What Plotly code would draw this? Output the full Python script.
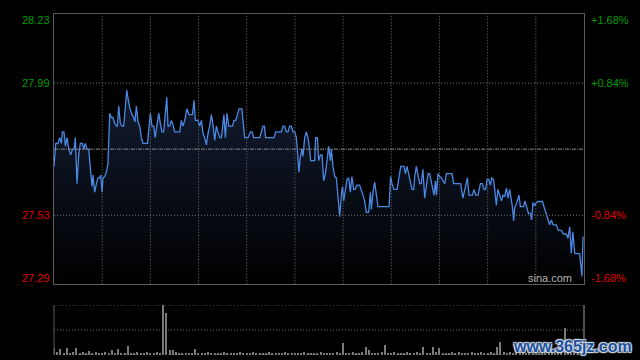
import plotly.graph_objects as go

# ---------------- data ----------------
minute = [0, 1.1, 2.5, 3.5, 4.6, 5.2, 6.2, 7.1, 8.1, 9.2, 10.4, 11.5, 12.5, 13.3, 14.3, 15.4, 16.4, 17.7, 18.5, 19.5,
          20.5, 21.6, 22.7, 23.7, 24.3, 25.3, 26.4, 27.4, 28.5, 29.1, 29.9, 30.5, 31.6, 32.6, 33.6, 34.7, 35.7, 36.7, 37.8, 38.9,
          39.5, 40.3, 41.3, 42.3, 43.4, 44.5, 45.3, 46.3, 47.3, 48.6, 49.6, 50.4, 51.3, 52.3, 53.4, 54.4, 55.4, 57.1, 58.2, 59.2,
          60.0, 61.0, 62.1, 63.0, 63.8, 65.2, 66.2, 67.2, 68.3, 69.4, 70.2, 71.0, 72.0, 73.1, 74.1, 75.1, 76.8, 78.3, 79.3, 80.3,
          81.4, 82.8, 84.1, 86.2, 87.2, 88.0, 89.7, 90.7, 91.8, 92.8, 93.8, 94.9, 95.9, 96.9, 98.0, 99.0, 100.1, 101.1, 102.1, 103.2,
          104.2, 105.2, 105.8, 106.7, 107.7, 108.8, 111.1, 112.1, 113.1, 114.2, 115.2, 117.0, 118.7, 120.8, 122.3, 123.3, 124.3, 128.1, 129.1, 130.1,
          131.0, 131.8, 137.0, 138.0, 141.6, 142.6, 143.6, 144.7, 145.7, 146.7, 147.8, 148.8, 149.9, 150.9, 151.5, 152.5, 153.4, 154.4, 155.0, 156.1,
          157.1, 158.1, 159.2, 159.8, 162.3, 162.9, 164.0, 164.8, 165.9, 166.9, 167.9, 169.0, 170.0, 171.0, 172.1, 172.7, 173.7, 174.8, 175.8, 176.8,
          177.9, 178.9, 179.6, 180.4, 181.4, 182.4, 183.5, 184.5, 185.5, 186.6, 187.6, 188.6, 190.3, 191.4, 192.4, 193.4, 194.5, 195.9, 197.0, 197.6,
          198.6, 199.7, 200.7, 201.7, 208.6, 209.6, 210.4, 211.7, 213.6, 214.6, 215.9, 217.9, 218.8, 219.8, 220.8, 221.9, 222.9, 224.0, 224.6, 225.6,
          226.6, 227.7, 228.7, 229.7, 230.8, 231.9, 232.9, 233.9, 235.0, 236.0, 236.6, 237.5, 238.1, 239.1, 240.1, 241.2, 242.2, 243.3, 244.3, 247.8,
          248.9, 253.2, 254.6, 255.7, 257.4, 258.4, 260.5, 261.5, 262.6, 264.0, 265.5, 266.7, 267.7, 268.8, 269.6, 270.6, 271.7, 272.5, 273.6, 274.4,
          275.4, 276.4, 277.5, 278.6, 279.6, 280.6, 281.7, 282.7, 283.7, 284.8, 285.4, 286.2, 286.8, 287.9, 288.9, 289.5, 290.4, 292.4, 293.2, 294.1,
          295.4, 296.6, 297.4, 298.2, 299.3, 300.3, 301.3, 304.1, 305.5, 306.6, 307.6, 308.6, 309.7, 310.7, 312.8, 313.8, 315.9, 317.3, 319.0, 320.0,
          321.1, 322.1, 323.1, 324.2, 327.3, 327.9, 328.7, 329.4]

price = [27.70, 27.78, 27.78, 27.80, 27.78, 27.82, 27.82, 27.77, 27.80, 27.76, 27.74, 27.76, 27.76, 27.80, 27.64, 27.74, 27.78, 27.78, 27.76, 27.78,
         27.76, 27.76, 27.69, 27.63, 27.67, 27.61, 27.64, 27.66, 27.66, 27.67, 27.61, 27.66, 27.665, 27.68, 27.71, 27.885, 27.87, 27.87, 27.85, 27.84,
         27.84, 27.91, 27.85, 27.84, 27.84, 27.90, 27.965, 27.93, 27.90, 27.88, 27.87, 27.855, 27.91, 27.855, 27.84, 27.80, 27.78, 27.78, 27.78, 27.84,
         27.885, 27.84, 27.84, 27.80, 27.83, 27.885, 27.85, 27.82, 27.82, 27.885, 27.94, 27.84, 27.84, 27.86, 27.845, 27.82, 27.82, 27.82, 27.86, 27.84,
         27.86, 27.90, 27.88, 27.88, 27.93, 27.86, 27.86, 27.84, 27.86, 27.815, 27.80, 27.775, 27.815, 27.84, 27.88, 27.845, 27.79, 27.84, 27.82, 27.80,
         27.80, 27.84, 27.88, 27.80, 27.885, 27.84, 27.84, 27.86, 27.86, 27.88, 27.90, 27.90, 27.80, 27.80, 27.82, 27.82, 27.80, 27.80, 27.82, 27.84,
         27.84, 27.80, 27.80, 27.82, 27.82, 27.84, 27.84, 27.82, 27.82, 27.84, 27.84, 27.82, 27.82, 27.80, 27.76, 27.68, 27.735, 27.76, 27.735, 27.80,
         27.82, 27.80, 27.76, 27.72, 27.72, 27.80, 27.80, 27.72, 27.74, 27.74, 27.65, 27.675, 27.72, 27.77, 27.72, 27.76, 27.70, 27.665, 27.66, 27.60,
         27.525, 27.60, 27.63, 27.58, 27.62, 27.655, 27.66, 27.61, 27.665, 27.62, 27.62, 27.635, 27.635, 27.62, 27.60, 27.58, 27.54, 27.54, 27.61, 27.55,
         27.61, 27.645, 27.60, 27.56, 27.56, 27.665, 27.64, 27.62, 27.62, 27.65, 27.70, 27.70, 27.675, 27.70, 27.675, 27.65, 27.62, 27.62, 27.665, 27.70,
         27.665, 27.64, 27.64, 27.69, 27.59, 27.64, 27.675, 27.675, 27.64, 27.62, 27.60, 27.65, 27.60, 27.675, 27.665, 27.66, 27.65, 27.64, 27.675, 27.675,
         27.64, 27.64, 27.59, 27.62, 27.66, 27.60, 27.60, 27.62, 27.60, 27.60, 27.64, 27.64, 27.62, 27.62, 27.655, 27.655, 27.635, 27.66, 27.655, 27.62,
         27.565, 27.62, 27.60, 27.58, 27.60, 27.595, 27.625, 27.59, 27.62, 27.585, 27.56, 27.51, 27.555, 27.57, 27.59, 27.60, 27.56, 27.56, 27.58, 27.56,
         27.537, 27.537, 27.514, 27.574, 27.563, 27.574, 27.578, 27.578, 27.555, 27.537, 27.52, 27.497, 27.514, 27.497, 27.497, 27.479, 27.477, 27.465, 27.465, 27.45,
         27.49, 27.398, 27.473, 27.398, 27.396, 27.351, 27.317, 27.456]

# volume, one value every two minutes (minute 0, 2, 4, ... 330)
volume = [14, 6, 12, 4, 14, 4, 6, 14, 4, 6, 3, 8, 4, 6, 3, 4,
          6, 4, 10, 3, 12, 4, 3, 18, 4, 3, 6, 3, 4, 5, 3, 4, 6, 3,
          100, 84, 10, 10, 5, 3, 4, 3, 4, 3, 12, 3,
          4, 2, 5, 3, 2, 4, 3, 6, 2, 3, 4, 2, 5, 3, 2, 4, 6, 3, 2, 4, 3, 5,
          2, 3, 4, 2, 6, 3, 2, 4, 3, 2, 5, 3, 4, 2, 3, 6, 2, 4, 3, 2, 5, 3,
          24, 4, 3, 5, 3, 4, 6, 16, 10, 3, 4, 3, 5, 20, 4,
          3, 5, 2, 4, 3, 6, 2, 3, 5, 4,
          16, 3, 4, 16, 5, 14, 3,
          4, 2, 5, 3, 6, 2, 4, 3, 5, 2, 4, 6, 3, 2, 5,
          4, 16, 26, 5,
          3, 6, 4, 2, 5, 8, 3, 4, 6, 3, 5, 4, 8, 3, 6, 4, 5, 3,
          54, 6, 4, 8, 5, 6, 4]
vol_minute = [2 * i for i in range(len(volume))]

prev_close = 27.76
price_top, price_bottom = 28.23, 27.29
level_values = [28.23, 27.99, 27.53, 27.29]
left_labels = ["28.23", "27.99", "27.53", "27.29"]
right_labels = ["+1.68%", "+0.84%", "-0.84%", "-1.68%"]
grid_minutes = [30, 60, 90, 120, 150, 180, 210, 240, 270, 300]
session_end = 330

# ---------------- styles ----------------
GREEN = "#009c00"
RED = "#e00000"
GRID = "#767676"
BORDER = "#5c5c5c"
FONT = "Liberation Sans, Arial, sans-serif"

fig = go.Figure()

fig.add_trace(go.Scatter(
    x=minute, y=price, mode="lines",
    line=dict(color="#4a88e4", width=1.3),
    fill="tozeroy",
    fillgradient=dict(type="vertical",
                      colorscale=[[0, "#000000"], [1, "#121c30"]],
                      start=price_bottom, stop=27.95),
    xaxis="x", yaxis="y", hoverinfo="skip", showlegend=False,
))

fig.add_trace(go.Bar(
    x=vol_minute, y=volume, width=0.7,
    marker=dict(color="#7a7a7a", line=dict(width=0)),
    xaxis="x2", yaxis="y2", hoverinfo="skip", showlegend=False,
))

shapes = []
# vertical grid in price panel
for m in grid_minutes:
    shapes.append(dict(type="line", xref="x", yref="y", x0=m, x1=m, y0=price_bottom, y1=price_top,
                       line=dict(color=GRID, width=1, dash="1px,2px"), layer="above"))
# horizontal grid in price panel
for v in [27.99, 27.53]:
    shapes.append(dict(type="line", xref="paper", yref="y", x0=0, x1=1, y0=v, y1=v,
                       line=dict(color=GRID, width=1, dash="1px,2px"), layer="above"))
shapes.append(dict(type="line", xref="paper", yref="y", x0=0, x1=1, y0=prev_close, y1=prev_close,
                   line=dict(color="#8a8a8a", width=1, dash="4px,1px,1px,1px"), layer="above"))
# volume panel frame
for v in [0, 50, 100]:
    shapes.append(dict(type="line", xref="paper", yref="y2", x0=0, x1=1, y0=v, y1=v,
                       line=dict(color=GRID, width=1, dash="1px,2px"), layer="above"))
for xp, col in [(0, BORDER), (1, "#9a9a9a")]:
    shapes.append(dict(type="line", xref="paper", yref="y2", x0=xp, x1=xp, y0=0, y1=100,
                       line=dict(color=col, width=1), layer="above"))

annotations = []
shifts = [-6, 0, 0, 6]
for v, lt, rt, s in zip(level_values, left_labels, right_labels, shifts):
    col = GREEN if v > prev_close else RED
    annotations.append(dict(xref="paper", yref="y", x=0, y=v, text=lt, showarrow=False,
                            xanchor="right", yanchor="middle", xshift=-2, yshift=s,
                            font=dict(family=FONT, size=11, color=col)))
    annotations.append(dict(xref="paper", yref="y", x=1, y=v, text=rt, showarrow=False,
                            xanchor="left", yanchor="middle", xshift=5, yshift=s,
                            font=dict(family=FONT, size=11, color=col)))
annotations.append(dict(xref="paper", yref="y", x=1, y=price_bottom, text="sina.com", showarrow=False,
                        xanchor="right", yanchor="middle", xshift=-10, yshift=6,
                        font=dict(family=FONT, size=11, color="#b4b4b4")))
annotations.append(dict(xref="paper", yref="paper", x=1, y=0, text="<b>www.365jz.com</b>", showarrow=False,
                        xanchor="right", yanchor="middle", xshift=50, yshift=9,
                        font=dict(family=FONT, size=16, color="#1d4f9c",
                                  shadow="1px 1px 1px #d8e2ee, -1px -1px 1px #d8e2ee, 1px -1px 1px #d8e2ee, -1px 1px 1px #d8e2ee")))

fig.update_layout(
    width=640, height=360, autosize=False,
    margin=dict(l=54, r=56, t=14, b=5),
    paper_bgcolor="#000000", plot_bgcolor="#000000",
    showlegend=False, bargap=0,
    xaxis=dict(domain=[0, 1], range=[0, session_end], anchor="y", showgrid=False, zeroline=False,
               showticklabels=False, ticks="", showline=True, mirror=True, linecolor=BORDER, linewidth=1),
    yaxis=dict(domain=[0.2073, 1], range=[price_bottom, price_top], showgrid=False, zeroline=False,
               showticklabels=False, ticks="", showline=True, mirror=True, linecolor=BORDER, linewidth=1),
    xaxis2=dict(domain=[0, 1], range=[0, session_end], anchor="y2", showgrid=False, zeroline=False,
                showticklabels=False, ticks="", showline=False),
    yaxis2=dict(domain=[0, 0.1466], range=[0, 100], showgrid=False, zeroline=False,
                showticklabels=False, ticks="", showline=False),
    shapes=shapes, annotations=annotations,
)

fig.write_html("out.html", config={"displayModeBar": False},
               post_script="document.body.style.margin='0';document.body.style.background='#000';")
